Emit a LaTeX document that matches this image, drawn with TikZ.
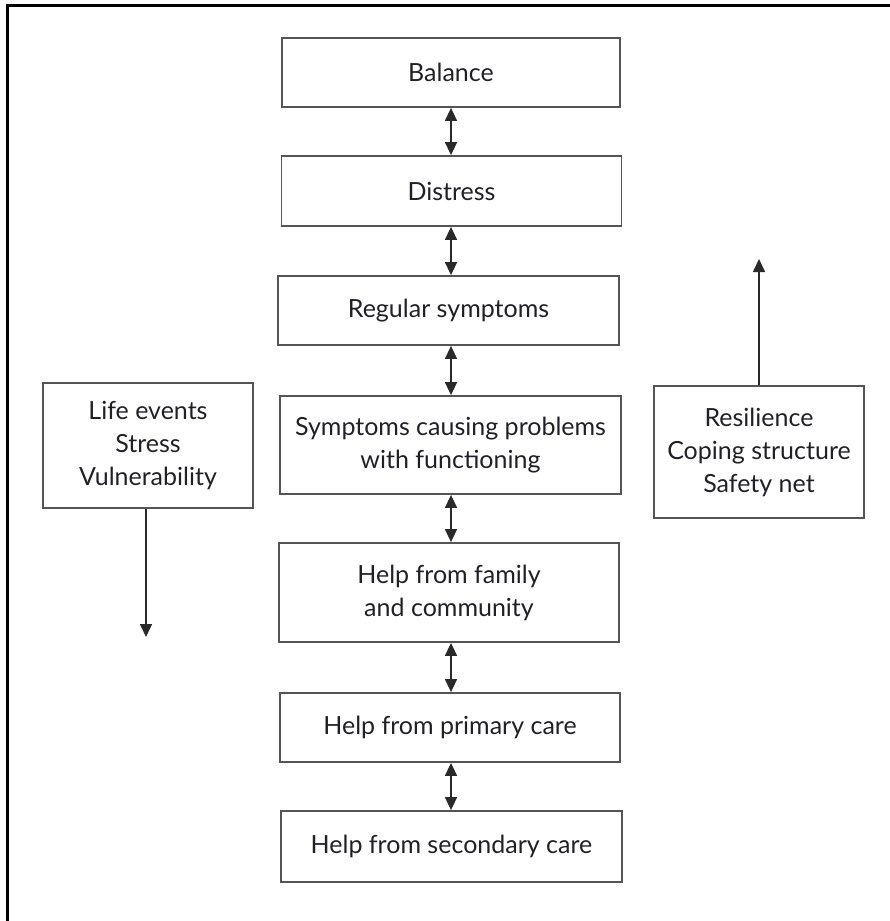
\documentclass[tikz,border=0pt]{standalone}
\usepackage{fontspec}
\setmainfont{Lato}
\usetikzlibrary{arrows.meta}
\definecolor{boxline}{HTML}{555555}
\definecolor{txt}{HTML}{202028}
\definecolor{arr}{HTML}{2A2A2A}
\tikzset{
  box/.style={draw=boxline, line width=1.8pt, rectangle, inner sep=0pt, align=center,
    text=txt, font=\fontsize{25}{33}\selectfont},
  dbl/.style={draw=arr, line width=1.6pt, {Triangle[width=12pt,length=13pt]}-{Triangle[width=12pt,length=13pt]}},
  sgl/.style={draw=arr, line width=1.6pt, -{Triangle[width=12pt,length=13pt]}},
  frame/.style={line width=3pt, black}
}
\begin{document}
\begin{tikzpicture}[x=1pt,y=-1pt]
\useasboundingbox (0,0) rectangle (890,921);
\draw[frame] (7,921) -- (7,5) -- (890,5);
\node[box, minimum width=338pt, minimum height=69pt] (bal) at (451,72.5) {Balance};
\node[box, minimum width=340pt, minimum height=70pt] (dis) at (451.5,191) {Distress};
\node[box, minimum width=341pt, minimum height=69pt] (reg) at (448.5,310.5) {Regular symptoms};
\node[box, minimum width=341pt, minimum height=98pt] (sym) at (450.5,445) {Symptoms causing problems\\with functioning};
\node[box, minimum width=340pt, minimum height=99pt] (fam) at (449,592.5) {Help from family\\and community};
\node[box, minimum width=340pt, minimum height=69pt] (pri) at (450,727.5) {Help from primary care};
\node[box, minimum width=341pt, minimum height=71pt] (sec) at (451.5,846.5) {Help from secondary care};
\node[box, minimum width=210pt, minimum height=125pt] (life) at (148,445.5) {Life events\\Stress\\Vulnerability};
\node[box, minimum width=210pt, minimum height=132pt] (res) at (759,452) {Resilience\\Coping structure\\Safety net};
\coordinate (lifeend) at (146,637);
\coordinate (resend) at (759,259);
\draw[dbl] (bal.south) -- (bal.south |- dis.north);
\draw[dbl] (bal.south |- dis.south) -- (bal.south |- reg.north);
\draw[dbl] (bal.south |- reg.south) -- (bal.south |- sym.north);
\draw[dbl] (bal.south |- sym.south) -- (bal.south |- fam.north);
\draw[dbl] (bal.south |- fam.south) -- (bal.south |- pri.north);
\draw[dbl] (bal.south |- pri.south) -- (bal.south |- sec.north);
\draw[sgl] (life.south -| lifeend) -- (lifeend);
\draw[sgl] (res.north -| resend) -- (resend);
\end{tikzpicture}
\end{document}
